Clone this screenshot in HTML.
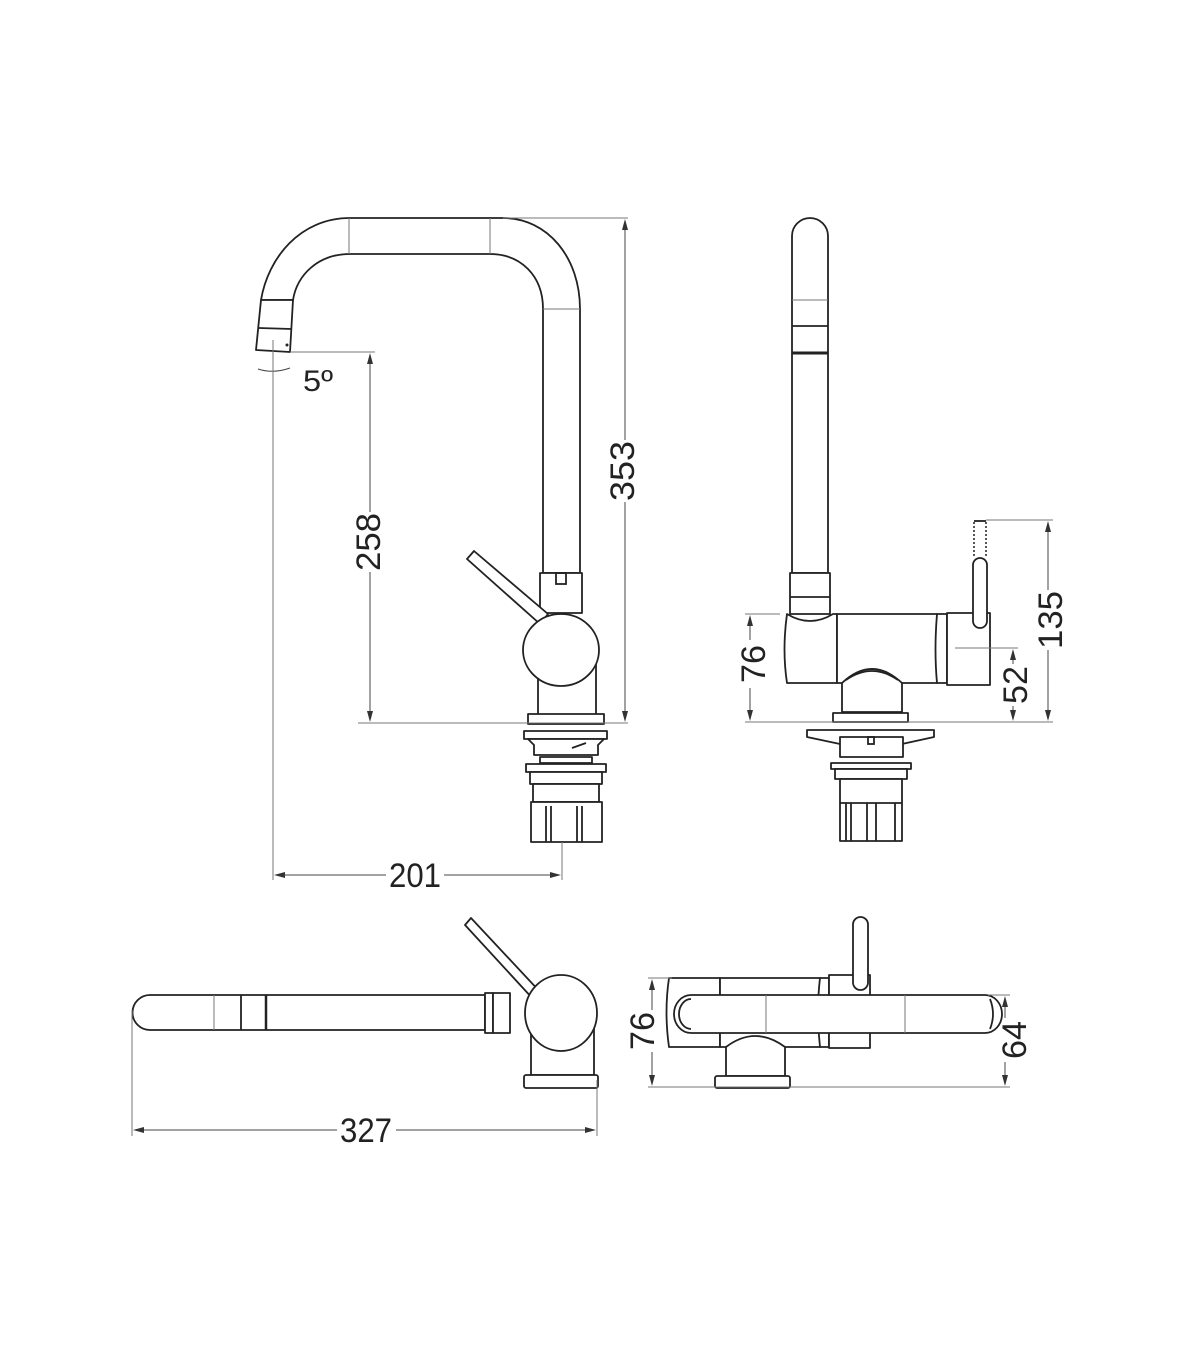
<!DOCTYPE html>
<html><head><meta charset="utf-8"><style>
html,body{margin:0;padding:0;background:#fff;}
svg{display:block;}
text{font-family:"Liberation Sans",sans-serif;fill:#222;}
.o{fill:#fff;stroke:#222;stroke-width:1.8;stroke-linejoin:round;}
.n{fill:none;stroke:#222;stroke-width:1.8;}
.t{fill:none;stroke:#777;stroke-width:1;}
.d{fill:none;stroke:#444;stroke-width:1;}
.a{fill:#333;}
</style></head><body>
<svg width="1200" height="1372" viewBox="0 0 1200 1372" xmlns="http://www.w3.org/2000/svg">

<!-- ===== FRONT VIEW ===== -->
<path class="o" d="M261,300 C268,258 300,218 350,218 L503,218 C548,218 580,258 580,309 L580,573 L543,573 L543,309 C543,275 520,254 490,254 L350,254 C318,254 297,275 293,300 Z"/>
<line class="t" x1="349" y1="218" x2="349" y2="254"/>
<line class="t" x1="490" y1="218" x2="490" y2="254"/>
<line class="t" x1="543" y1="309" x2="580" y2="309"/>
<path class="o" d="M261,300 L293,300 L290,352 L256,350 Z"/>
<line class="n" x1="259" y1="328" x2="292" y2="329"/>
<circle cx="287" cy="345" r="1.5" fill="#222"/>
<!-- collar -->
<rect class="o" x="540" y="573" width="42" height="40"/>
<rect class="n" x="556" y="573" width="10" height="11"/>
<!-- body -->
<rect class="o" x="538" y="640" width="58" height="75"/>
<!-- lever -->
<polygon class="o" points="467,559 474,551 548,614 540,624"/>
<ellipse class="o" cx="561" cy="650" rx="38" ry="36"/>
<!-- base -->
<rect class="o" x="528" y="714" width="76" height="10"/>
<rect class="o" x="524" y="731" width="83" height="8"/>
<path class="o" d="M528,739 L534,745 L534,755 L598,755 L598,745 L604,739 Z"/>
<line class="n" x1="572" y1="748" x2="586" y2="743"/>
<rect class="o" x="540" y="757" width="52" height="6"/>
<rect class="o" x="526" y="764" width="80" height="8"/>
<rect class="o" x="530" y="772" width="72" height="12"/>
<rect class="o" x="533" y="784" width="66" height="18"/>
<rect class="o" x="531" y="802" width="71" height="40"/>
<line class="n" x1="546" y1="806" x2="546" y2="842"/>
<line class="n" x1="551" y1="806" x2="551" y2="842"/>
<line class="n" x1="577" y1="806" x2="577" y2="842"/>
<line class="n" x1="582" y1="806" x2="582" y2="842"/>

<!-- 353 -->
<line class="t" x1="503" y1="218" x2="628" y2="218"/>
<line class="t" x1="358" y1="723" x2="628" y2="723"/>
<line class="d" x1="625" y1="222" x2="625" y2="440"/>
<line class="d" x1="625" y1="502" x2="625" y2="719"/>
<polygon class="a" points="625,219 622,230 628,230"/>
<polygon class="a" points="625,722 622,711 628,711"/>
<text transform="translate(634,471) rotate(-90)" font-size="34" text-anchor="middle" textLength="60" lengthAdjust="spacingAndGlyphs">353</text>
<!-- 258 -->
<line class="t" x1="290" y1="352" x2="375" y2="352"/>
<line class="d" x1="370" y1="356" x2="370" y2="512"/>
<line class="d" x1="370" y1="572" x2="370" y2="719"/>
<polygon class="a" points="370,353 367,364 373,364"/>
<polygon class="a" points="370,722 367,711 373,711"/>
<text transform="translate(380,542) rotate(-90)" font-size="34" text-anchor="middle" textLength="58" lengthAdjust="spacingAndGlyphs">258</text>
<!-- 5° -->
<line class="t" x1="273" y1="340" x2="273" y2="380"/>
<path class="d" d="M258,369 Q273,374 290,368"/>
<text x="303" y="391" font-size="30" textLength="30" lengthAdjust="spacingAndGlyphs">5º</text>
<!-- 201 -->
<line class="t" x1="273" y1="360" x2="273" y2="880"/>
<line class="t" x1="562" y1="842" x2="562" y2="880"/>
<line class="d" x1="277" y1="875" x2="386" y2="875"/>
<line class="d" x1="444" y1="875" x2="558" y2="875"/>
<polygon class="a" points="274,875 285,872 285,878"/>
<polygon class="a" points="561,875 550,872 550,878"/>
<text x="415" y="887" font-size="34" text-anchor="middle" textLength="52" lengthAdjust="spacingAndGlyphs">201</text>

<!-- ===== SIDE VIEW ===== -->
<path class="o" d="M792,573 L792,236 A18,18 0 0 1 828,236 L828,573 Z"/>
<line class="t" x1="792" y1="300" x2="828" y2="300"/>
<line class="n" x1="792" y1="326" x2="828" y2="326"/>
<line stroke="#222" stroke-width="3" x1="792" y1="353" x2="828" y2="353"/>
<rect class="o" x="790" y="573" width="40" height="41"/>
<line class="n" x1="790" y1="597" x2="830" y2="597"/>
<path class="o" d="M787,614 Q810,628 833,614 L837,614 L837,683 L787,683 Q782,650 787,614 Z"/>
<rect class="o" x="837" y="614" width="100" height="69"/>
<path class="o" d="M937,614 L947,614 L947,683 L937,683 Q934,650 937,614 Z"/>
<rect class="o" x="947" y="613" width="43" height="72"/>
<path class="o" d="M842,683 L842,712 L902,712 L902,683 Q872,655 842,683 Z"/>
<path class="n" d="M846,680 Q872,662 898,680"/>
<rect class="o" x="973" y="558" width="14" height="70" rx="7"/>
<line stroke="#222" stroke-width="1.5" stroke-dasharray="2,2" x1="974" y1="522" x2="974" y2="558"/>
<line stroke="#222" stroke-width="1.5" stroke-dasharray="2,2" x1="986" y1="522" x2="986" y2="558"/>
<line class="n" x1="974" y1="521" x2="986" y2="521"/>
<line class="t" x1="955" y1="648" x2="990" y2="648"/>
<rect class="o" x="833" y="713" width="75" height="9"/>
<path class="o" d="M807,730 L934,730 L934,737 L902,744 L840,744 L807,737 Z"/>
<rect class="o" x="840" y="737" width="63" height="20"/>
<rect class="n" x="868" y="737" width="6" height="7"/>
<rect class="o" x="831" y="763" width="80" height="6"/>
<rect class="o" x="835" y="769" width="72" height="10"/>
<rect class="o" x="840" y="779" width="62" height="62"/>
<line class="n" x1="846" y1="803" x2="846" y2="841"/>
<line class="n" x1="851" y1="803" x2="851" y2="841"/>
<line class="n" x1="867" y1="803" x2="867" y2="841"/>
<line class="n" x1="876" y1="803" x2="876" y2="841"/>
<line class="n" x1="895" y1="803" x2="895" y2="841"/>
<line class="n" x1="840" y1="803" x2="902" y2="803"/>
<!-- 76 -->
<line class="t" x1="745" y1="614" x2="780" y2="614"/>
<line class="t" x1="745" y1="722" x2="1053" y2="722"/>
<line class="d" x1="750" y1="618" x2="750" y2="640"/>
<line class="d" x1="750" y1="688" x2="750" y2="718"/>
<polygon class="a" points="750,615 747,626 753,626"/>
<polygon class="a" points="750,721 747,710 753,710"/>
<text transform="translate(765,664) rotate(-90)" font-size="34" text-anchor="middle" textLength="38" lengthAdjust="spacingAndGlyphs">76</text>
<!-- 52 -->
<line class="t" x1="990" y1="648" x2="1018" y2="648"/>
<line class="d" x1="1013" y1="652" x2="1013" y2="664"/>
<line class="d" x1="1013" y1="706" x2="1013" y2="718"/>
<polygon class="a" points="1013,649 1010,660 1016,660"/>
<polygon class="a" points="1013,721 1010,710 1016,710"/>
<text transform="translate(1027,685) rotate(-90)" font-size="34" text-anchor="middle" textLength="38" lengthAdjust="spacingAndGlyphs">52</text>
<!-- 135 -->
<line class="t" x1="986" y1="520" x2="1053" y2="520"/>
<line class="d" x1="1048" y1="524" x2="1048" y2="590"/>
<line class="d" x1="1048" y1="650" x2="1048" y2="718"/>
<polygon class="a" points="1048,521 1045,532 1051,532"/>
<polygon class="a" points="1048,721 1045,710 1051,710"/>
<text transform="translate(1062,620) rotate(-90)" font-size="34" text-anchor="middle" textLength="58" lengthAdjust="spacingAndGlyphs">135</text>

<!-- ===== TOP VIEW LEFT ===== -->
<path class="o" d="M150,995 L485,995 L485,1030 L150,1030 A17.5,17.5 0 0 1 150,995 Z"/>
<line class="t" x1="214" y1="995" x2="214" y2="1030"/>
<line class="n" x1="241" y1="995" x2="241" y2="1030"/>
<line stroke="#222" stroke-width="2.5" x1="266" y1="995" x2="266" y2="1030"/>
<rect class="o" x="485" y="993" width="8" height="40"/>
<rect class="o" x="493" y="993" width="17" height="40"/>
<rect class="o" x="531" y="1025" width="63" height="50"/>
<polygon class="o" points="465,925 471,918 542,994 534,1000"/>
<ellipse class="o" cx="561" cy="1013" rx="36" ry="38"/>
<rect class="o" x="524" y="1075" width="74" height="13" rx="2"/>
<!-- 327 -->
<line class="t" x1="132" y1="1010" x2="132" y2="1136"/>
<line class="t" x1="597" y1="1080" x2="597" y2="1136"/>
<line class="d" x1="136" y1="1130" x2="337" y2="1130"/>
<line class="d" x1="396" y1="1130" x2="593" y2="1130"/>
<polygon class="a" points="133,1130 144,1127 144,1133"/>
<polygon class="a" points="596,1130 585,1127 585,1133"/>
<text x="366" y="1142" font-size="34" text-anchor="middle" textLength="52" lengthAdjust="spacingAndGlyphs">327</text>

<!-- ===== TOP VIEW RIGHT ===== -->
<path class="o" d="M669,978 L720,978 L720,1047 L669,1047 Q664,1012 669,978 Z"/>
<rect class="o" x="720" y="978" width="100" height="69"/>
<path class="o" d="M820,978 L829,978 L829,1047 L820,1047 Q816,1012 820,978 Z"/>
<rect class="o" x="829" y="975" width="41" height="73"/>
<path class="o" d="M691,995 L985,995 A17,19 0 0 1 985,1033 L691,1033 A17,19 0 0 1 691,995 Z"/>
<path class="n" d="M691,999 A12,15 0 0 0 691,1029"/>
<line class="t" x1="766" y1="995" x2="766" y2="1033"/>
<line class="t" x1="905" y1="995" x2="905" y2="1033"/>
<path class="n" d="M990,999 Q996,1014 990,1029"/>
<rect class="o" x="853" y="917" width="15" height="73" rx="7.5"/>
<path class="o" d="M726,1047 L726,1076 L785,1076 L785,1047 Q755,1025 726,1047 Z"/>
<rect class="o" x="715" y="1076" width="75" height="12" rx="2"/>
<!-- 76 -->
<line class="t" x1="648" y1="978" x2="672" y2="978"/>
<line class="t" x1="648" y1="1087" x2="1010" y2="1087"/>
<line class="d" x1="652" y1="982" x2="652" y2="1010"/>
<line class="d" x1="652" y1="1052" x2="652" y2="1083"/>
<polygon class="a" points="652,979 649,990 655,990"/>
<polygon class="a" points="652,1086 649,1075 655,1075"/>
<text transform="translate(654,1031) rotate(-90)" font-size="34" text-anchor="middle" textLength="38" lengthAdjust="spacingAndGlyphs">76</text>
<!-- 64 -->
<line class="t" x1="988" y1="995" x2="1010" y2="995"/>
<line class="d" x1="1005" y1="999" x2="1005" y2="1018"/>
<line class="d" x1="1005" y1="1062" x2="1005" y2="1083"/>
<polygon class="a" points="1005,996 1002,1007 1008,1007"/>
<polygon class="a" points="1005,1086 1002,1075 1008,1075"/>
<text transform="translate(1026,1040) rotate(-90)" font-size="34" text-anchor="middle" textLength="38" lengthAdjust="spacingAndGlyphs">64</text>
</svg>
</body></html>
